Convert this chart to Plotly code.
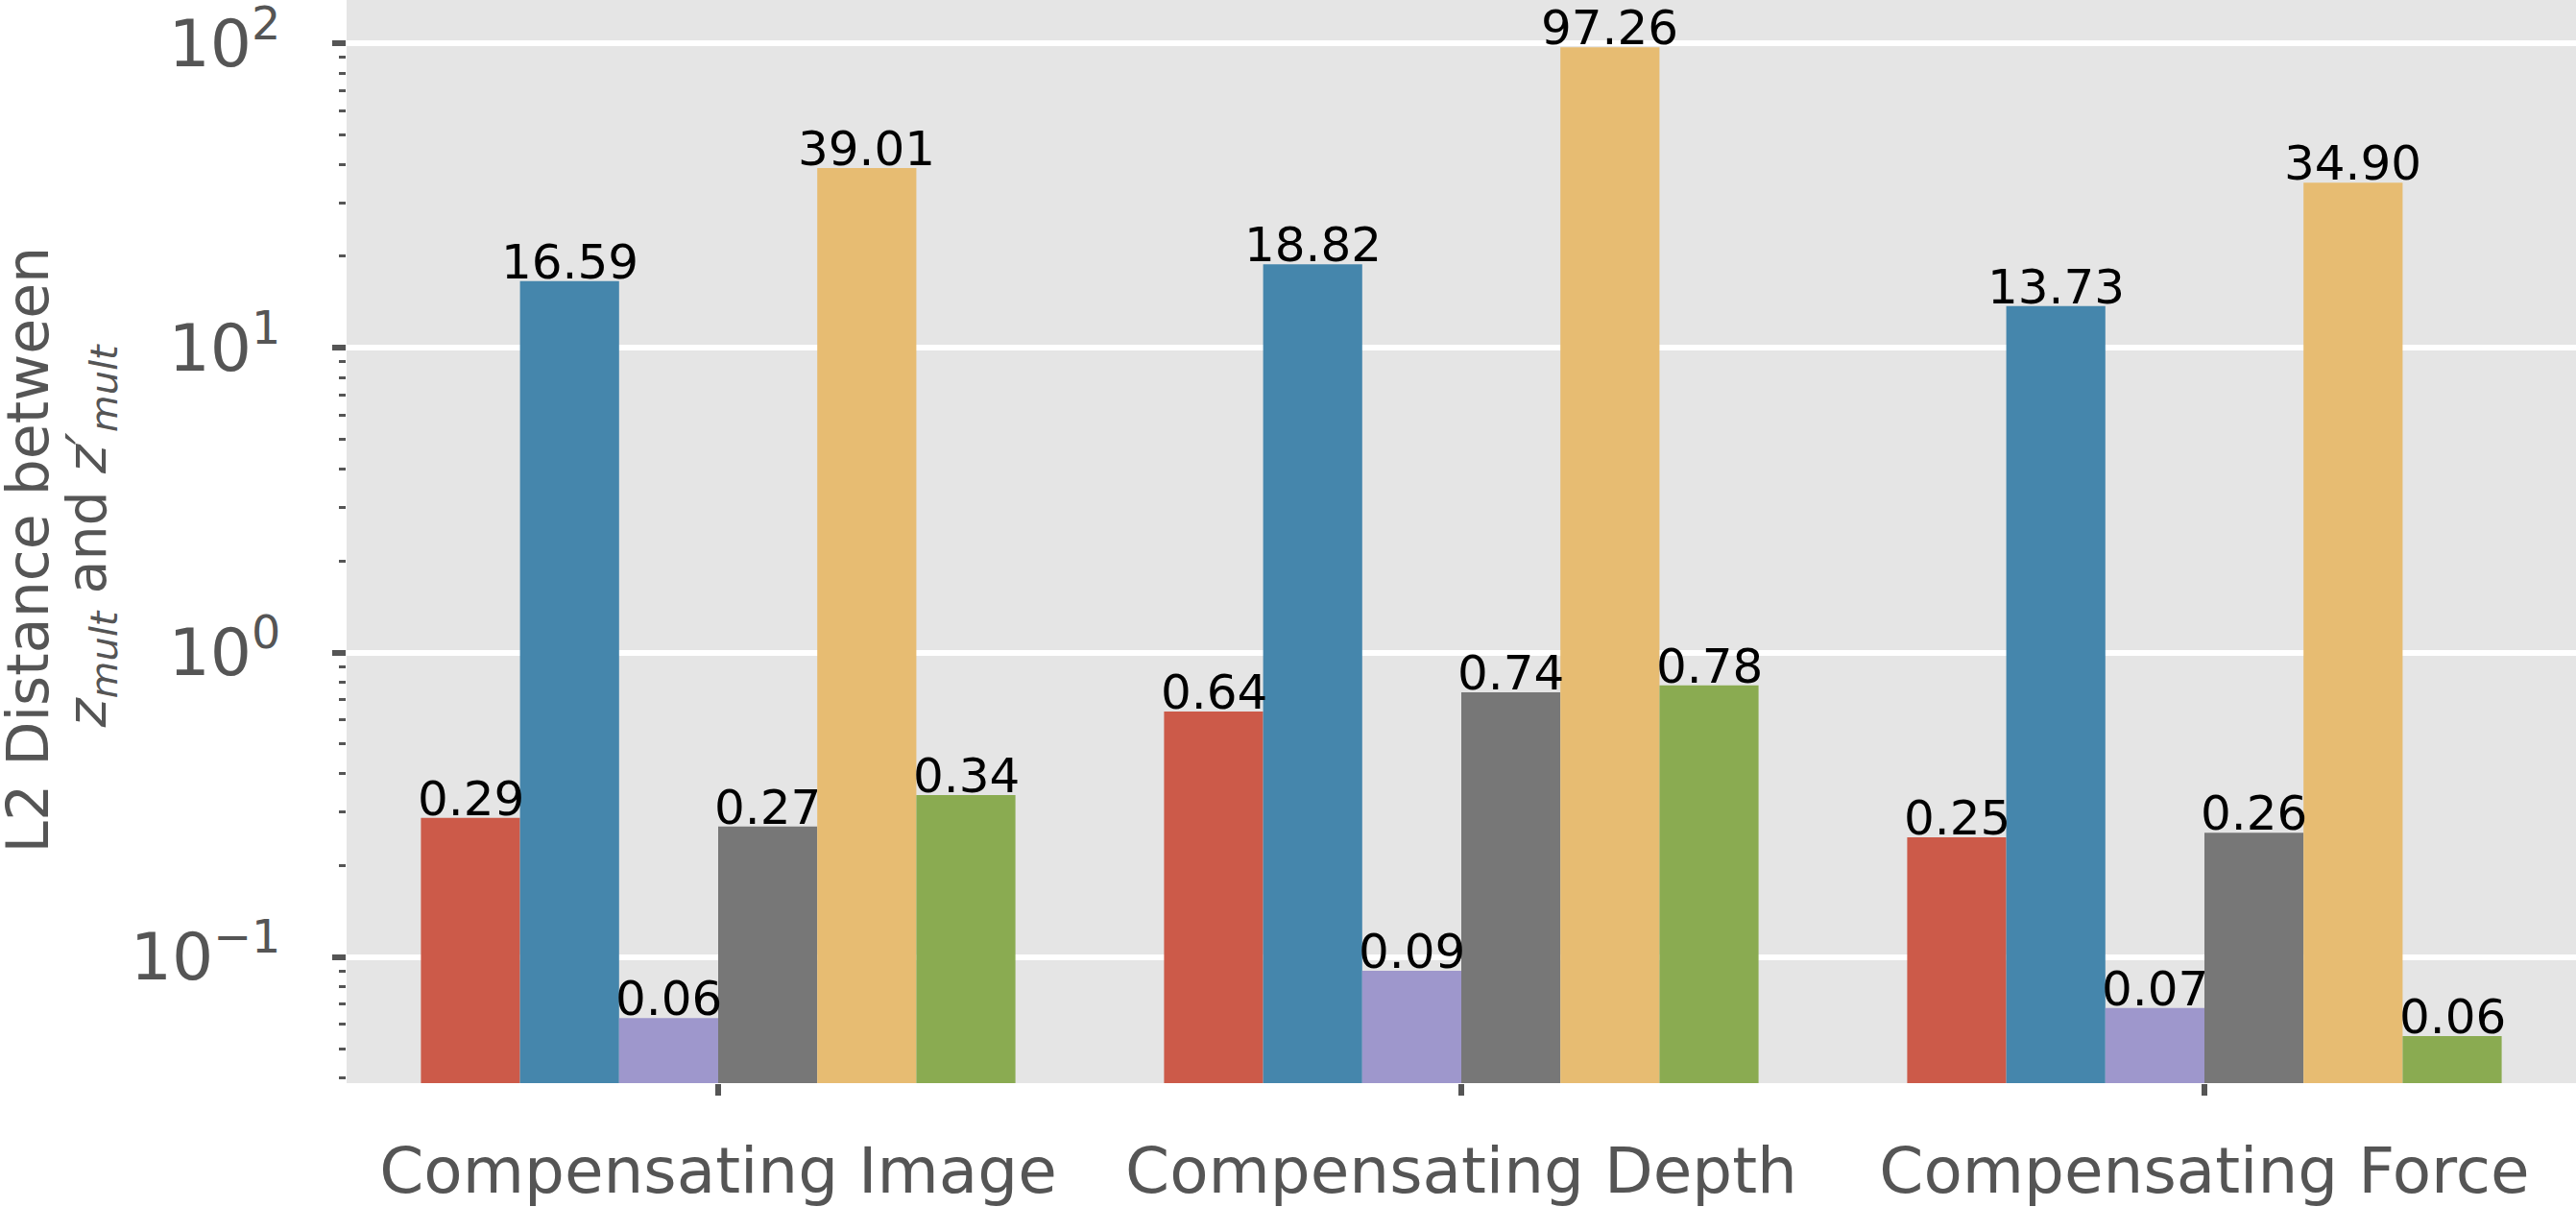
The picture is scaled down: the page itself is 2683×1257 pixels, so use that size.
import math
import plotly.graph_objects as go

categories = ["Compensating Image", "Compensating Depth", "Compensating Force"]
series_names = ["Series 1", "Series 2", "Series 3", "Series 4", "Series 5", "Series 6"]
series_colors = ["#CC5A49", "#4586AC", "#9E97CC", "#777777", "#E7BC72", "#8AAB51"]

s1 = [0.286, 0.64, 0.247]
s2 = [16.59, 18.82, 13.73]
s3 = [0.063, 0.09, 0.068]
s4 = [0.268, 0.74, 0.256]
s5 = [39.01, 97.26, 34.90]
s6 = [0.34, 0.78, 0.055]
series_values = [s1, s2, s3, s4, s5, s6]

y_ticks = [0.1, 1, 10, 100]
y_tick_text = ["10<sup>\u22121</sup>", "10<sup>0</sup>", "10<sup>1</sup>", "10<sup>2</sup>"]
minor_ticks = [m * 10.0 ** e for e in range(-2, 3) for m in range(2, 10)]

title_line1 = "L2 Distance between"
title_line2 = "<i>z</i><sub><i>mult</i></sub> and <i>z\u2032</i><sub><i>mult</i></sub>"

FONT = "DejaVu Sans"
GRAY = "#555555"
GROUP_WIDTH = 0.8
n_series = len(series_values)
bar_w = GROUP_WIDTH / n_series
cat_pos = list(range(len(categories)))

fig = go.Figure()
annotations = []
for k, (name, color, vals) in enumerate(zip(series_names, series_colors, series_values)):
    fig.add_trace(go.Bar(
        x=cat_pos, y=vals, name=name,
        marker=dict(color=color, line=dict(width=0)),
    ))
    for i, v in enumerate(vals):
        annotations.append(dict(
            x=i - GROUP_WIDTH / 2 + (k + 0.5) * bar_w, xref="x",
            y=math.log10(v), yref="y",
            text=f"{v:.2f}", showarrow=False,
            xanchor="center", yanchor="bottom", yshift=-11,
            font=dict(family=FONT, size=50, color="black"),
        ))

# y-axis title (two lines)
annotations.append(dict(
    x=0, xref="paper", y=0.4925, yref="paper", xshift=-332,
    text=title_line1, textangle=-90, showarrow=False,
    xanchor="center", yanchor="middle",
    font=dict(family=FONT, size=60, color=GRAY),
))
annotations.append(dict(
    x=0, xref="paper", y=0.505, yref="paper", xshift=-267,
    text=title_line2, textangle=-90, showarrow=False,
    xanchor="center", yanchor="middle",
    font=dict(family=FONT, size=57, color=GRAY),
))

fig.update_layout(
    width=2683, height=1257,
    barmode="group", bargap=1 - GROUP_WIDTH, bargroupgap=0,
    showlegend=False,
    paper_bgcolor="white", plot_bgcolor="#E5E5E5",
    margin=dict(l=361, r=0, t=0, b=129),
    font=dict(family=FONT, color=GRAY),
    annotations=annotations,
)
fig.update_xaxes(
    range=[-0.5, 2.5], tickmode="array", tickvals=cat_pos, ticktext=categories,
    automargin=False,
    showgrid=False, zeroline=False, showline=False,
    ticks="outside", ticklen=12, tickwidth=6, tickcolor=GRAY,
    tickfont=dict(family=FONT, size=66, color=GRAY),
    ticklabelstandoff=22,
)
fig.update_yaxes(
    type="log", range=[-1.4145, 2.143],
    tickmode="array", tickvals=y_ticks, ticktext=y_tick_text,
    ticklabeloverflow="allow", automargin=False,
    showgrid=True, gridcolor="white", gridwidth=6, zeroline=False, showline=False,
    ticks="outside", ticklen=14, tickwidth=6, tickcolor=GRAY,
    tickfont=dict(family=FONT, size=68, color=GRAY),
    ticklabelstandoff=40,
    minor=dict(tickmode="array", tickvals=minor_ticks, ticks="outside", ticklen=7,
               tickwidth=3, tickcolor=GRAY, showgrid=False),
)

fig.write_html("out.html")
